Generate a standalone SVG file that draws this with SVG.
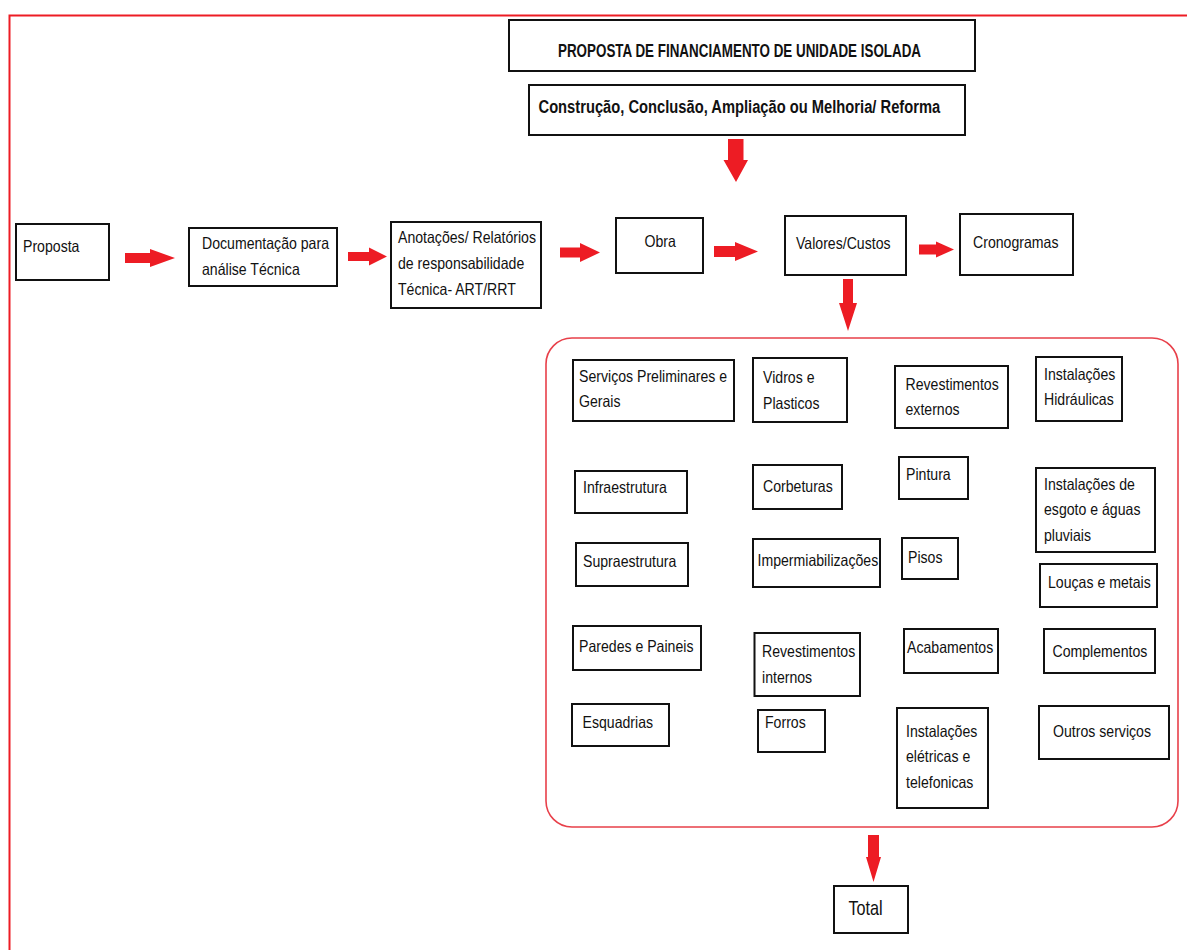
<svg xmlns="http://www.w3.org/2000/svg" width="1187" height="950" viewBox="0 0 1187 950">
<style>
.box{fill:#fff;stroke:#111;stroke-width:2}
.t{font-family:"Liberation Sans",Arial,sans-serif;font-size:16.5px;fill:#111}
.b{font-family:"Liberation Sans",Arial,sans-serif;font-weight:bold;fill:#111}
.arr{fill:#ED1C24}
.frame{stroke:#ED1C24;stroke-width:2;fill:none}
.group{fill:none;stroke:#E8404A;stroke-width:1.6}
</style>
<rect width="1187" height="950" fill="#fff"/>
<path class="frame" d="M9.5,950 V15.5 H1187"/>
<g id="title"><rect class="box" x="509" y="20" width="466" height="51"/><text class="b" font-size="18" transform="translate(558,57) scale(0.745,1)">PROPOSTA DE FINANCIAMENTO DE UNIDADE ISOLADA</text></g>
<g id="subtitle"><rect class="box" x="529" y="85" width="436" height="50"/><text class="b" font-size="19" transform="translate(538.5,113) scale(0.775,1)">Construção, Conclusão, Ampliação ou Melhoria/ Reforma</text></g>
<g id="proposta"><rect class="box" x="16" y="224" width="93" height="56"/><text class="t" transform="translate(23,252) scale(0.855,1)">Proposta</text></g>
<g id="documentacao"><rect class="box" x="189" y="228" width="148" height="58"/><text class="t" transform="translate(202,249) scale(0.855,1)"><tspan x="0">Documentação para</tspan><tspan x="0" dy="26">análise Técnica</tspan></text></g>
<g id="anotacoes"><rect class="box" x="391" y="222" width="150" height="86"/><text class="t" transform="translate(398,243) scale(0.855,1)"><tspan x="0">Anotações/ Relatórios</tspan><tspan x="0" dy="26">de responsabilidade</tspan><tspan x="0" dy="26">Técnica- ART/RRT</tspan></text></g>
<g id="obra"><rect class="box" x="616" y="218" width="87" height="55"/><text class="t" transform="translate(644.5,247) scale(0.855,1)">Obra</text></g>
<g id="valores"><rect class="box" x="785" y="216" width="121" height="59"/><text class="t" transform="translate(796,249) scale(0.855,1)">Valores/Custos</text></g>
<g id="cronogramas"><rect class="box" x="960" y="214" width="113" height="61"/><text class="t" transform="translate(973,248) scale(0.855,1)">Cronogramas</text></g>
<g id="itens"><rect class="group" x="546" y="338" width="632" height="489" rx="26"/></g>
<g id="servicos"><rect class="box" x="573" y="360" width="161" height="61"/><text class="t" transform="translate(579,382) scale(0.855,1)"><tspan x="0">Serviços Preliminares e</tspan><tspan x="0" dy="25">Gerais</tspan></text></g>
<g id="vidros"><rect class="box" x="753" y="358" width="94" height="64"/><text class="t" transform="translate(763,383) scale(0.855,1)"><tspan x="0">Vidros e</tspan><tspan x="0" dy="26">Plasticos</tspan></text></g>
<g id="revext"><rect class="box" x="895" y="366" width="113" height="62"/><text class="t" transform="translate(905.5,390) scale(0.855,1)"><tspan x="0">Revestimentos</tspan><tspan x="0" dy="25">externos</tspan></text></g>
<g id="hidraulicas"><rect class="box" x="1036" y="357" width="86" height="64"/><text class="t" transform="translate(1044,380) scale(0.855,1)"><tspan x="0">Instalações</tspan><tspan x="0" dy="25">Hidráulicas</tspan></text></g>
<g id="infra"><rect class="box" x="575" y="471" width="112" height="42"/><text class="t" transform="translate(583,493) scale(0.855,1)">Infraestrutura</text></g>
<g id="corbeturas"><rect class="box" x="753" y="465" width="89" height="44"/><text class="t" transform="translate(763,492) scale(0.855,1)">Corbeturas</text></g>
<g id="pintura"><rect class="box" x="899" y="457" width="69" height="42"/><text class="t" transform="translate(906,480) scale(0.855,1)">Pintura</text></g>
<g id="esgoto"><rect class="box" x="1036" y="468" width="119" height="84"/><text class="t" transform="translate(1044,490) scale(0.855,1)"><tspan x="0">Instalações de</tspan><tspan x="0" dy="25.5">esgoto e águas</tspan><tspan x="0" dy="25.5">pluviais</tspan></text></g>
<g id="supra"><rect class="box" x="576" y="543" width="112" height="43"/><text class="t" transform="translate(583,567) scale(0.855,1)">Supraestrutura</text></g>
<g id="imper"><rect class="box" x="753" y="539" width="127" height="48"/><text class="t" transform="translate(757.5,566) scale(0.855,1)">Impermiabilizações</text></g>
<g id="pisos"><rect class="box" x="902" y="538" width="56" height="41"/><text class="t" transform="translate(908,563) scale(0.855,1)">Pisos</text></g>
<g id="loucas"><rect class="box" x="1040" y="564" width="117" height="43"/><text class="t" transform="translate(1048,588) scale(0.855,1)">Louças e metais</text></g>
<g id="paredes"><rect class="box" x="573" y="626" width="128" height="44"/><text class="t" transform="translate(579,652) scale(0.855,1)">Paredes e Paineis</text></g>
<g id="revint"><rect class="box" x="754.5" y="633" width="105.5" height="63"/><text class="t" transform="translate(762,657) scale(0.855,1)"><tspan x="0">Revestimentos</tspan><tspan x="0" dy="26">internos</tspan></text></g>
<g id="acabamentos"><rect class="box" x="904" y="629" width="94" height="44"/><text class="t" transform="translate(907,653) scale(0.855,1)">Acabamentos</text></g>
<g id="complementos"><rect class="box" x="1044" y="629" width="111" height="44"/><text class="t" transform="translate(1052.5,657) scale(0.855,1)">Complementos</text></g>
<g id="esquadrias"><rect class="box" x="572" y="704" width="97" height="42"/><text class="t" transform="translate(582.5,728) scale(0.855,1)">Esquadrias</text></g>
<g id="forros"><rect class="box" x="758" y="710" width="67" height="42"/><text class="t" transform="translate(765,728) scale(0.855,1)">Forros</text></g>
<g id="eletricas"><rect class="box" x="897" y="708" width="91" height="100"/><text class="t" transform="translate(906,737) scale(0.855,1)"><tspan x="0">Instalações</tspan><tspan x="0" dy="25.5">elétricas e</tspan><tspan x="0" dy="25.5">telefonicas</tspan></text></g>
<g id="outros"><rect class="box" x="1039" y="706" width="130" height="53"/><text class="t" transform="translate(1053,737) scale(0.855,1)">Outros serviços</text></g>
<g id="total"><rect class="box" x="834" y="886" width="74" height="47"/><text class="t" font-size="20.5" style="font-size:20.5px" transform="translate(848.5,915) scale(0.79,1)">Total</text></g>
<g id="connectors">
<polygon class="arr" points="125,253 150,253 150,249 175,258 150,267 150,263 125,263"/>
<polygon class="arr" points="348,252 369,252 369,247.5 387,256.5 369,265.5 369,261 348,261"/>
<polygon class="arr" points="560,247.5 580,247.5 580,243 600,252.5 580,262 580,257.5 560,257.5"/>
<polygon class="arr" points="714,246 735,246 735,242 758,251.5 735,261 735,257 714,257"/>
<polygon class="arr" points="919,244.5 936,244.5 936,241.5 954,249.5 936,257.5 936,254.5 919,254.5"/>
<polygon class="arr" points="728,139 743.5,139 743.5,160 748,160 736,182 723.5,160 728,160"/>
<polygon class="arr" points="843,279 853,279 853,303 857,303 848,331 839,303 843,303"/>
<polygon class="arr" points="868,835 879,835 879,857 881,857 873.5,882 866,857 868,857"/>
</g>
</svg>
